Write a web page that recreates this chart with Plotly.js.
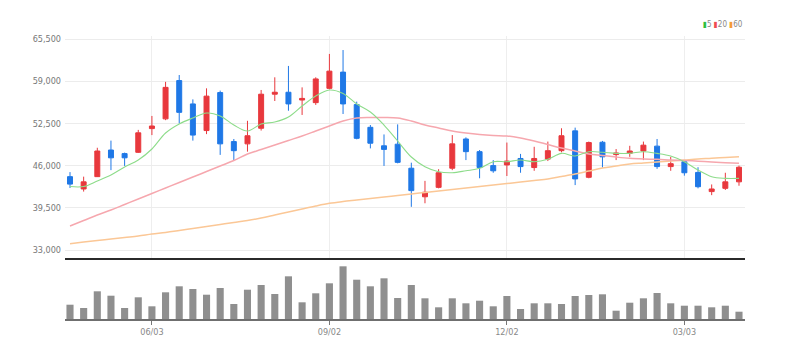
<!DOCTYPE html>
<html>
<head>
<meta charset="utf-8">
<script src="https://cdn.plot.ly/plotly-3.0.1.min.js"></script>
<style>
html,body{margin:0;padding:0;background:#fff;}
#chart{width:789px;height:359px;}
</style>
</head>
<body>
<div id="chart"></div>
<script>
// Weekly dates (Mondays)
const dates = [
 "2024-04-22","2024-04-29","2024-05-06","2024-05-13","2024-05-20","2024-05-27",
 "2024-06-03","2024-06-10","2024-06-17","2024-06-24","2024-07-01","2024-07-08",
 "2024-07-15","2024-07-22","2024-07-29","2024-08-05","2024-08-12","2024-08-19",
 "2024-08-26","2024-09-02","2024-09-09","2024-09-16","2024-09-23","2024-09-30",
 "2024-10-07","2024-10-14","2024-10-21","2024-10-28","2024-11-04","2024-11-11",
 "2024-11-18","2024-11-25","2024-12-02","2024-12-09","2024-12-16","2024-12-23",
 "2024-12-30","2025-01-06","2025-01-13","2025-01-20","2025-01-27","2025-02-03",
 "2025-02-10","2025-02-17","2025-02-24","2025-03-03","2025-03-10","2025-03-17",
 "2025-03-24","2025-03-31"
];
const openP = [44300,42400,44300,48400,47850,48050,51700,53200,59100,55500,51400,57250,
 49700,49350,51750,57000,57300,56100,55700,57900,60400,55400,51900,49050,49300,45600,
 41200,42650,45600,50100,48150,46000,46100,47100,45700,47000,48300,51350,44200,49600,
 47700,47900,48250,49000,45850,46600,44950,42000,42500,43500];
const highP = [45000,44300,48750,49850,48000,51500,53650,58900,59950,56200,57900,57550,
 50100,52900,57650,59600,61350,58050,59600,63200,63800,55850,52250,50800,52350,46450,
 43650,45450,50700,50350,48400,46850,49550,47800,48900,49700,51750,51850,49700,49800,
 48550,49050,49700,50100,47350,46850,45750,43100,44900,46000];
const lowP = [42550,42000,44250,45300,45950,47950,50700,53000,52500,49850,50850,47650,
 46750,48150,51400,55950,54450,53800,55350,57750,53950,50050,48650,45950,46350,39650,
 40200,42500,45300,46850,44050,44900,44400,44900,45200,46700,48050,43000,44050,45700,
 46850,47350,46850,45500,45200,44450,42500,41450,42250,42900];
const closeP = [43150,43500,48250,47200,47200,51050,52100,58050,54200,50700,56700,49350,
 48300,50600,57000,57300,55500,56350,59350,60550,55500,50200,49450,48500,46500,42150,
 41900,44900,49350,48150,45700,45200,46700,45850,47100,48300,50600,43950,49550,47350,
 47950,48250,49150,45850,46300,44900,42750,42400,43500,45750];
const ma5 = [42780,42780,43630,44550,45780,46860,48560,51020,52410,53330,54100,53640,
 52250,51330,52410,52720,53490,55180,56720,57640,57110,55490,54260,52250,49790,47330,
 45830,45060,44910,45210,45580,46600,46600,46860,46600,46970,47890,47480,48140,48050,
 47890,47890,48140,47890,47480,46600,45320,44290,44040,44040];
const ma20 = [36700,37540,38390,39160,40010,40860,41700,42550,43400,44240,45090,45940,
 46790,47790,48480,49170,49870,50560,51330,52100,52870,53330,53410,53410,53330,52870,
 52250,51790,51330,51020,50790,50640,50560,50250,49790,49250,48710,48250,47790,47560,
 47320,47120,47020,46970,46860,46790,46680,46550,46450,46350];
const ma60 = [33980,34230,34460,34690,34930,35160,35460,35700,36000,36310,36620,36930,
 37240,37540,37930,38390,38850,39320,39780,40190,40470,40700,40930,41160,41390,41630,
 41860,42090,42320,42550,42780,43010,43240,43470,43710,43940,44320,44710,45170,45630,
 45940,46250,46400,46550,46710,46860,47020,47120,47250,47370];
const volume = [286,220,554,466,220,434,254,534,654,600,486,620,300,586,680,500,854,334,
 514,714,1054,786,654,814,420,680,414,234,414,314,366,254,460,200,314,314,300,460,480,
 494,166,326,414,520,314,266,266,234,266,146];
const priceTicks = [33000,39500,46000,52500,59000,65500];
const dateTickVals = ["2024-06-03","2024-09-02","2024-12-02","2025-03-03"];
const dateTickText = ["06/03","09/02","12/02","03/03"];

const RED = "#e8383d", BLUE = "#1f78e6";
const FONT = "Liberation Sans Narrow, DejaVu Sans Condensed, Arial Narrow, sans-serif";

const traces = [
  {type:"candlestick", x:dates, open:openP, high:highP, low:lowP, close:closeP,
   xaxis:"x", yaxis:"y",
   increasing:{line:{color:RED,width:1}, fillcolor:RED},
   decreasing:{line:{color:BLUE,width:1}, fillcolor:BLUE},
   whiskerwidth:0, hoverinfo:"skip", showlegend:false},
  {type:"scatter", mode:"lines", x:dates, y:ma60, xaxis:"x", yaxis:"y",
   line:{color:"#fbc796", width:1.5, shape:"spline"}, hoverinfo:"skip", showlegend:false},
  {type:"scatter", mode:"lines", x:dates, y:ma20, xaxis:"x", yaxis:"y",
   line:{color:"#f6a7ae", width:1.5, shape:"spline"}, hoverinfo:"skip", showlegend:false},
  {type:"scatter", mode:"lines", x:dates, y:ma5, xaxis:"x", yaxis:"y",
   line:{color:"#8ddc8a", width:1.1, shape:"spline"}, hoverinfo:"skip", showlegend:false},
  {type:"bar", x:dates, y:volume, xaxis:"x2", yaxis:"y2",
   marker:{color:"#8f8f8f"}, hoverinfo:"skip", showlegend:false}
];

const xRange = ["2024-04-19 10:30","2025-04-03 02:00"];
const layout = {
  width:789, height:359,
  margin:{l:65, r:44, t:36, b:40},
  paper_bgcolor:"#fff", plot_bgcolor:"#fff",
  bargap:0.48,
  boxgap:0.48,
  showlegend:false,
  font:{family:FONT, size:9, color:"#777"},
  xaxis:{type:"date", range:xRange, domain:[0,1], anchor:"y",
    rangeslider:{visible:false},
    tickvals:dateTickVals, ticktext:dateTickText, showticklabels:false,
    showgrid:true, gridcolor:"#eeeeee", gridwidth:1,
    showline:true, linecolor:"#2a2a2a", linewidth:2, ticks:"", zeroline:false},
  yaxis:{domain:[0.2155,1], range:[31768,65962], anchor:"x",
    tickvals:priceTicks, tickformat:",d",
    showgrid:true, gridcolor:"#ececec", gridwidth:1,
    showline:false, zeroline:false, ticks:"", ticklabelstandoff:3,
    tickfont:{family:FONT, size:9, color:"#777"}},
  xaxis2:{type:"date", range:xRange, domain:[0,1], anchor:"y2", matches:"x",
    tickvals:dateTickVals, ticktext:dateTickText,
    showgrid:false, showline:true, linecolor:"#6f6f6f", linewidth:1.5,
    ticks:"outside", ticklen:4, tickcolor:"#777", tickwidth:1,
    tickfont:{family:FONT, size:9, color:"#888"}, zeroline:false},
  yaxis2:{domain:[0,0.2155], range:[0,1220], anchor:"x2",
    showgrid:false, showticklabels:false, showline:false, zeroline:false, ticks:""},
  annotations:[
    {xref:"paper", yref:"paper", x:(745-65)/680, y:(319-25)/283, xanchor:"right", yanchor:"middle",
     showarrow:false, font:{family:FONT, size:8, color:"#888"},
     text:'<span style="color:#2fbf3f">▮</span>5 <span style="color:#f04a50">▮</span>20 <span style="color:#f59b37">▮</span>60'}
  ]
};

Plotly.newPlot("chart", traces, layout, {staticPlot:true, displayModeBar:false});
</script>
</body>
</html>
